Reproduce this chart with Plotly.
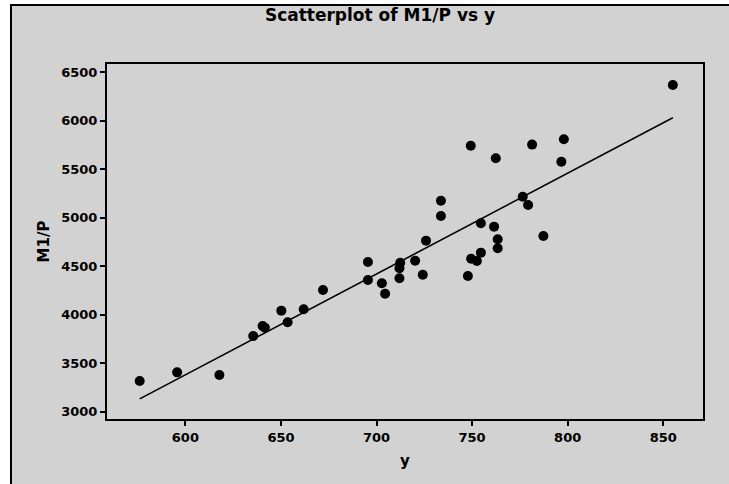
import numpy as np
import plotly.graph_objects as go

# data
y_income = [576.1, 595.7, 617.8, 635.5, 640.4, 641.6, 650.2, 653.5, 661.9, 672.0,
            695.5, 695.5, 702.8, 704.5, 712.0, 712.4, 712.0, 720.2, 724.2, 725.9,
            733.7, 733.7, 747.8, 749.3, 749.5, 752.5, 754.6, 754.6, 761.5, 762.4,
            763.4, 763.4, 776.5, 779.3, 781.4, 787.3, 796.7, 798.0, 855.0]
m1_p = [3317, 3406, 3378, 3781, 3884, 3866, 4042, 3922, 4056, 4255,
        4544, 4358, 4324, 4217, 4479, 4536, 4376, 4557, 4413, 4764,
        5176, 5018, 4399, 5743, 4578, 4554, 4640, 4943, 4908, 5613,
        4778, 4685, 5217, 5132, 5754, 4812, 5578, 5809, 6369]

x_ticks = [600, 650, 700, 750, 800, 850]
y_ticks = [3000, 3500, 4000, 4500, 5000, 5500, 6000, 6500]

slope, intercept = np.polyfit(y_income, m1_p, 1)
x_line = [min(y_income), max(y_income)]
y_line = [slope * v + intercept for v in x_line]

fig = go.Figure()
fig.add_trace(go.Scatter(x=x_line, y=y_line, mode="lines",
                         line=dict(color="black", width=1.6), showlegend=False,
                         hoverinfo="skip"))
fig.add_trace(go.Scatter(x=y_income, y=m1_p, mode="markers",
                         marker=dict(color="black", size=10), showlegend=False))

W, H = 729, 484
L, R, T, B = 107, 26, 64, 65
pw, ph = W - L - R, H - T - B

def px_to_paper_x(p):
    return (p - L) / pw

def px_to_paper_y(p):
    return (H - B - p) / ph

# gray frame background
fig.add_shape(type="rect", xref="paper", yref="paper",
              x0=px_to_paper_x(11), x1=px_to_paper_x(740),
              y0=px_to_paper_y(495), y1=px_to_paper_y(5),
              fillcolor="#d2d2d2", line=dict(width=0), layer="below")
# top and left frame borders
fig.add_shape(type="line", xref="paper", yref="paper",
              x0=px_to_paper_x(10), x1=px_to_paper_x(740),
              y0=px_to_paper_y(5), y1=px_to_paper_y(5),
              line=dict(color="black", width=2), layer="below")
fig.add_shape(type="line", xref="paper", yref="paper",
              x0=px_to_paper_x(11), x1=px_to_paper_x(11),
              y0=px_to_paper_y(4), y1=px_to_paper_y(495),
              line=dict(color="black", width=2), layer="below")

font_family = "DejaVu Sans"
fig.update_layout(
    width=W, height=H,
    margin=dict(l=L, r=R, t=T, b=B),
    paper_bgcolor="white",
    plot_bgcolor="white",
    title=dict(text="<b>Scatterplot of M1/P vs y</b>", x=380 / W,
               xanchor="center", y=1 - 15 / H, yanchor="middle",
               font=dict(family=font_family, size=17, color="black")),
    font=dict(family=font_family, color="black"),
)
fig.update_xaxes(range=[559, 870.8], tickvals=x_ticks,
                 ticktext=[f"<b>{v}</b>" for v in x_ticks],
                 ticks="outside", ticklen=5, tickcolor="black", tickwidth=1.5,
                 showline=True, linecolor="black", linewidth=2, mirror=True,
                 showgrid=False, zeroline=False,
                 tickfont=dict(family=font_family, size=13, color="black"),
                 title=dict(text="<b>y</b>", font=dict(family=font_family, size=15, color="black"),
                            standoff=12))
fig.update_yaxes(range=[2925, 6585], tickvals=y_ticks,
                 ticktext=[f"<b>{v}</b>" for v in y_ticks],
                 ticks="outside", ticklen=5, tickcolor="black", tickwidth=1.5,
                 showline=True, linecolor="black", linewidth=2, mirror=True,
                 showgrid=False, zeroline=False,
                 tickfont=dict(family=font_family, size=13, color="black"),
                 title=dict(text="<b>M1/P</b>", font=dict(family=font_family, size=15, color="black"),
                            standoff=8))

fig.write_html("out.html", config={"displayModeBar": False},
               post_script="document.body.style.margin='0';")
